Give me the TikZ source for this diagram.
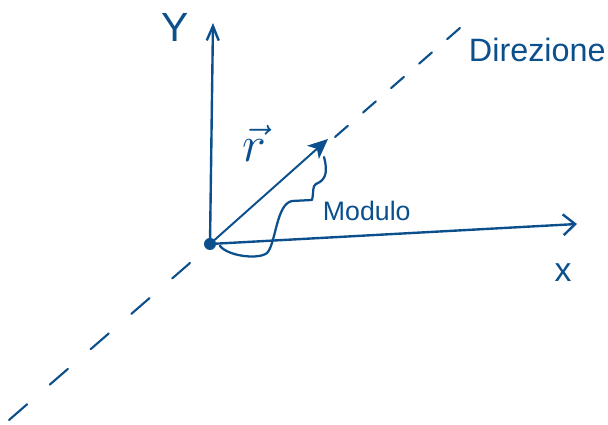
\documentclass[tikz,border=0pt]{standalone}
\usepackage{fontspec}
\setmainfont{Liberation Sans}
\usetikzlibrary{arrows.meta}
\definecolor{inkblue}{HTML}{0B4F8C}

\tikzset{
  axisline/.style={inkblue, line width=1.7pt},
  dirline/.style={inkblue, line width=1.5pt},
  handtext/.style={text=inkblue, inner sep=0pt},
}

\begin{document}
\begin{tikzpicture}[x=0.025cm, y=-0.025cm, line width=1.4pt, line cap=round, line join=round]

% Frame
\useasboundingbox (0,0) rectangle (608,425);

% Points
\coordinate (O) at (210,244);
\coordinate (ytip) at (213,23);
\coordinate (xtip) at (577,224);
\coordinate (rtip) at (328,139);
\coordinate (dlow) at (9,420);
\coordinate (dlowend) at (190,263);
\coordinate (dup) at (335,137);
\coordinate (dhigh) at (460,28);
\coordinate (bstart) at (220,246);
\coordinate (bmid) at (312,200);
\coordinate (bend) at (324,157);

% Direction line (dashed)
\draw[dirline, dash pattern=on 0.6cm off 0.75cm] (dlow) -- (dlowend);
\draw[dirline, dash pattern=on 0.425cm off 0.505cm] (dup) -- (dhigh);

% Axes
\draw[axisline, -{Straight Barb[length=3.6mm, width=3mm]}] (O) -- (ytip);
\draw[axisline, -{Straight Barb[length=3mm, width=5.2mm]}] (O) -- (xtip);

% Vector
\draw[inkblue, line width=1.4pt, -{Stealth[length=5mm, width=4.4mm, inset=1.3mm]}] (O) -- (rtip);
\fill[inkblue] (O) circle (0.15cm);

% Brace for the length
\draw[inkblue, line width=1.6pt] (bstart) .. controls (228,256) and (258,260) .. (267,253)
  .. controls (276,244) and (276,204) .. (292,201) -- (bmid)
  .. controls (314,192) and (312,186) .. (316,184)
  .. controls (326,180) and (328,172) .. (bend);

% Labels
\node[handtext, font=\fontsize{29}{29}\selectfont] (ylabel) at (175,27) {Y};
\node[handtext, font=\fontsize{24}{24}\selectfont] (xlabel) at (563,273) {x};
\node[handtext, font=\fontsize{24}{24}\selectfont] (rlabel) at (254,143) {\scalebox{1.45}{$\vec{r}$}};
\node[handtext, font=\fontsize{23}{23}\selectfont, anchor=base west] (dirlabel) at (468,62) {Direzione};
\node[handtext, font=\fontsize{19}{19}\selectfont, anchor=base west] (modlabel) at (322,221) {Modulo};

\end{tikzpicture}
\end{document}
